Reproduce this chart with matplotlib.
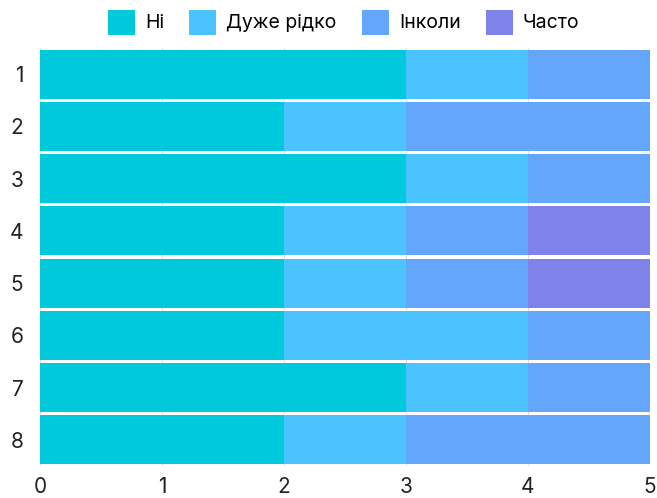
import matplotlib.pyplot as plt
import numpy as np

plt.rcParams['font.family'] = ['Inter', 'DejaVu Sans']

# Responses per question (1..8)
questions = ['1', '2', '3', '4', '5', '6', '7', '8']
series_names = ['Ні', 'Дуже рідко', 'Інколи', 'Часто']
ni = [3, 2, 3, 2, 2, 2, 3, 2]
duzhe_ridko = [1, 1, 1, 1, 1, 2, 1, 1]
inkoly = [1, 2, 1, 1, 1, 1, 1, 2]
chasto = [0, 0, 0, 1, 1, 0, 0, 0]
x_ticks = [0, 1, 2, 3, 4, 5]

colors = ['#00C9DB', '#4AC3FF', '#64A6FB', '#7F82E8']

fig = plt.figure(figsize=(6.57, 4.98), dpi=100)
ax = fig.add_axes([40 / 657, 1 - 466 / 498, 610 / 657, 418 / 498])

y = np.arange(len(questions))
left = np.zeros(len(questions))
for name, vals, c in zip(series_names, [ni, duzhe_ridko, inkoly, chasto], colors):
    ax.barh(y, vals, left=left, height=0.94, color=c, label=name, zorder=2)
    left += np.array(vals)

ax.set_xlim(0, 5)
ax.set_ylim(len(questions) - 0.5, -0.5)
ax.set_yticks(y)
ax.set_yticklabels(questions)
ax.set_xticks(x_ticks)
ax.grid(axis='x', color='#E0E0E0', linewidth=0.8, zorder=0)
for s in ax.spines.values():
    s.set_visible(False)
ax.tick_params(length=0, labelsize=15, colors='#222222')
ax.tick_params(axis='x', pad=8)
ax.tick_params(axis='y', pad=12)

fig.legend(loc='upper center', bbox_to_anchor=(0.523, 1.016), ncol=4, frameon=False,
           fontsize=14, handlelength=1.4, handleheight=1.6, handletextpad=0.5,
           columnspacing=1.3)

fig.savefig('out.png', dpi=100)
